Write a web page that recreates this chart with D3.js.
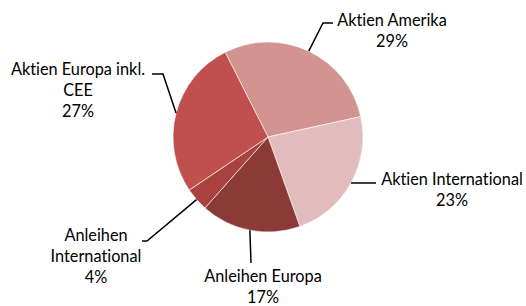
<!DOCTYPE html>
<html>
<head>
<meta charset="utf-8">
<script src="https://cdn.jsdelivr.net/npm/d3@7"></script>
<style>
  html, body { margin: 0; padding: 0; background: #fff; }
  svg text { font-family: Lato, "Noto Sans", sans-serif; fill: #000; font-variant-ligatures: none; }
</style>
</head>
<body>
<svg id="chart" width="526" height="306"></svg>
<script>
// chart data
const categories = ["Aktien Amerika", "Aktien International", "Anleihen Europa", "Anleihen International", "Aktien Europa inkl. CEE"];
const values = [29, 23, 17, 4, 27];
const labelLines = [["Aktien Amerika"], ["Aktien International"], ["Anleihen Europa"], ["Anleihen", "International"], ["Aktien Europa inkl.", "CEE"]];
const colors = ["#d39391", "#e2bcbc", "#8c3a38", "#a8423f", "#c0504d"];

const width = 526, height = 306;
const cx = 268, cy = 137, radius = 95;
const fontSize = 16.3, lineH = 21;

// label layout: elbow point of the leader, text anchor point and alignment
const labelLayout = [
    { elbow: [323, 23], end: [333, 23], tx: 392, ty: 26, anchor: "middle" },
    { elbow: [376, 183], end: [376, 183], tx: 452, ty: 185, anchor: "middle" },
    { elbow: [251, 263], end: [251, 263], tx: 263, ty: 282, anchor: "middle" },
    { elbow: [147, 241], end: [142, 241], tx: 96, ty: 241, anchor: "middle" },
    { elbow: [163, 74], end: [152, 74], tx: 78, ty: 75, anchor: "middle" }
];

const svg = d3.select("#chart");
const g = svg.append("g").attr("transform", `translate(${cx},${cy})`);

const startOffset = -26.8 * Math.PI / 180;
const pie = d3.pie().sort(null)
    .startAngle(startOffset)
    .endAngle(startOffset + 2 * Math.PI);
const arcs = pie(values);
const arc = d3.arc().innerRadius(0).outerRadius(radius);

g.selectAll("path.slice")
    .data(arcs)
    .enter()
    .append("path")
    .attr("class", "slice")
    .attr("d", arc)
    .attr("fill", (d, i) => colors[i])
    .attr("stroke", "#fff")
    .attr("stroke-width", 0.6);

// leader lines from the slice edge at mid angle
arcs.forEach((d, i) => {
    const mid = (d.startAngle + d.endAngle) / 2;
    const sx = cx + radius * Math.sin(mid);
    const sy = cy - radius * Math.cos(mid);
    const L = labelLayout[i];
    svg.append("polyline")
        .attr("points", [[sx, sy], L.elbow, L.end].map(p => p.join(",")).join(" "))
        .attr("fill", "none")
        .attr("stroke", "#000")
        .attr("stroke-width", 1.5);

    const lines = labelLines[i].concat([d3.format(".0%")(values[i] / 100)]);
    const t = svg.append("text")
        .attr("text-anchor", L.anchor)
        .style("font-size", fontSize + "px");
    lines.forEach((ln, k) => {
        t.append("tspan")
            .attr("x", L.tx)
            .attr("y", L.ty + k * lineH)
            .text(ln);
    });
});
</script>
</body>
</html>
